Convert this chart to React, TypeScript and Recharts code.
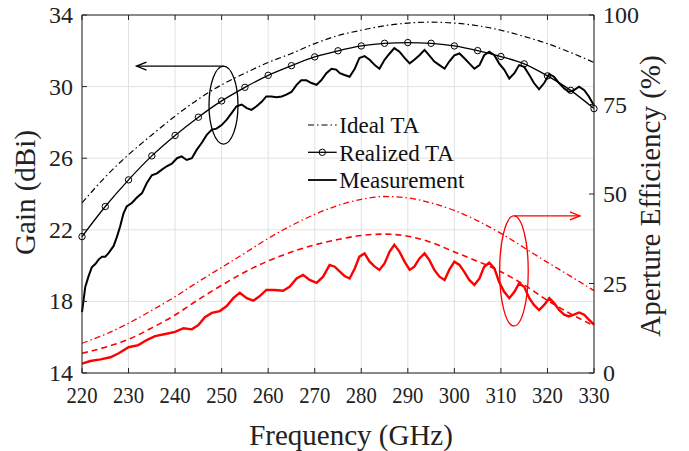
import React from 'react';
import {
  CartesianGrid,
  Label,
  Legend,
  Line,
  LineChart,
  ReferenceDot,
  XAxis,
  YAxis,
} from 'recharts';

const FONT = '"Liberation Serif", "Times New Roman", serif';
const AXIS = '#222';
const RED = '#ff0000';

const FREQ_TICKS = [220, 230, 240, 250, 260, 270, 280, 290, 300, 310, 320, 330];
const GAIN_TICKS = [14, 18, 22, 26, 30, 34];
const EFF_TICKS = [0, 25, 50, 75, 100];

// simulated curves, sampled every 5 GHz (markers of "Realized TA" sit on these)
const SIM_FREQ = [
  220, 225, 230, 235, 240, 245, 250, 255, 260, 265, 270, 275,
  280, 285, 290, 295, 300, 305, 310, 315, 320, 325, 330,
];
const IDEAL_GAIN = [
  23.5, 24.95, 26.2, 27.3, 28.35, 29.3, 30.1, 30.75, 31.35, 31.85, 32.4, 32.85,
  33.15, 33.4, 33.55, 33.6, 33.55, 33.4, 33.15, 32.8, 32.4, 31.9, 31.35,
];
const REALIZED_GAIN = [
  21.62, 23.3, 24.79, 26.13, 27.27, 28.29, 29.2, 29.96, 30.63, 31.17, 31.66, 32.0,
  32.27, 32.42, 32.46, 32.42, 32.27, 32.01, 31.68, 31.27, 30.6, 29.79, 28.77,
];
const IDEAL_EFF = [
  8.3, 10.8, 13.9, 17.5, 21.3, 25.5, 29.5, 33.5, 37.6, 41.2, 44.3, 46.8,
  48.5, 49.3, 48.9, 47.5, 45.4, 42.5, 39.0, 35.0, 30.9, 27.0, 23.0,
];
const REALIZED_EFF = [
  5.5, 7.2, 9.4, 12.6, 16.2, 20.5, 24.5, 28.2, 31.3, 33.8, 35.8, 37.3,
  38.4, 38.8, 38.2, 36.5, 33.8, 31.2, 28.3, 24.6, 20.3, 16.5, 13.2,
];

// measured gain (dBi)
const MEAS_GAIN_FREQ = [
  220.0, 220.7, 221.4, 222.1, 222.9, 223.6, 224.3, 225.0, 225.7, 226.8, 227.5, 228.2,
  228.9, 229.6, 230.7, 231.8, 232.9, 233.9, 235.0, 236.1, 237.1, 238.2, 239.3, 240.4,
  241.4, 242.5, 243.6, 244.6, 245.7, 246.8, 247.9, 248.9, 250.0, 251.1, 252.1, 253.2,
  254.3, 255.4, 256.4, 257.5, 258.6, 259.6, 260.7, 261.8, 262.9, 263.9, 265.0, 266.1,
  267.1, 268.2, 269.3, 270.4, 271.4, 272.5, 273.6, 274.6, 275.4, 276.4, 277.5, 278.6,
  279.6, 280.7, 281.8, 282.9, 283.9, 285.0, 286.1, 287.1, 288.2, 289.3, 290.4, 291.4,
  292.5, 293.6, 294.6, 295.7, 296.8, 297.9, 298.9, 300.0, 301.1, 302.1, 303.2, 304.3,
  305.4, 306.4, 307.5, 308.6, 309.6, 310.7, 311.8, 312.9, 313.9, 315.0, 316.1, 317.1,
  318.2, 319.3, 320.4, 321.4, 322.5, 323.6, 324.6, 325.7, 326.8, 327.9, 328.9, 330.0,
];
const MEAS_GAIN = [
  17.4, 18.8, 19.4, 19.9, 20.1, 20.35, 20.5, 20.5, 20.7, 21.1, 21.6, 22.2,
  22.9, 23.3, 23.5, 23.8, 24.05, 24.6, 25.05, 25.15, 25.35, 25.55, 25.7, 26.0,
  26.1, 25.9, 26.0, 26.45, 26.85, 27.3, 27.6, 27.65, 27.85, 28.15, 28.5, 28.9,
  29.0, 28.8, 28.7, 28.9, 29.15, 29.45, 29.45, 29.4, 29.45, 29.55, 29.7, 30.1,
  30.35, 30.35, 30.2, 30.1, 30.35, 30.75, 31.0, 30.95, 30.75, 30.65, 30.55, 31.0,
  31.6, 31.7, 31.5, 31.2, 31.0, 31.5, 31.85, 32.15, 31.95, 31.6, 31.3, 31.5,
  31.75, 32.05, 31.75, 31.4, 31.2, 31.0, 31.4, 31.75, 31.85, 31.6, 31.3, 31.0,
  31.2, 31.75, 31.95, 31.75, 31.3, 30.95, 30.45, 30.75, 31.2, 31.1, 30.65, 30.2,
  29.85, 30.2, 30.7, 30.55, 30.2, 29.9, 29.7, 29.8, 30.0, 29.8, 29.45, 28.95,
];

// measured aperture efficiency (%)
const MEAS_EFF_FREQ = [
  220.0, 221.8, 224.0, 226.1, 227.9, 230.0, 232.1, 233.9, 235.7, 237.9, 240.0, 241.8,
  243.6, 245.0, 246.4, 247.9, 249.6, 251.1, 252.5, 253.9, 255.4, 256.8, 258.2, 259.6,
  261.4, 263.2, 264.6, 266.1, 267.5, 268.9, 270.4, 271.8, 273.2, 274.3, 275.4, 276.4,
  277.5, 278.6, 279.6, 280.7, 281.8, 282.9, 283.9, 285.0, 286.1, 287.1, 288.2, 289.3,
  290.4, 291.4, 292.5, 293.6, 294.6, 295.7, 296.8, 297.9, 298.9, 300.0, 301.1, 302.1,
  303.2, 304.3, 305.4, 306.4, 307.5, 308.6, 309.6, 310.7, 311.8, 312.9, 313.9, 315.0,
  316.1, 317.1, 318.2, 319.3, 320.4, 321.4, 322.5, 323.6, 324.6, 325.7, 326.8, 327.9,
  328.9, 330.0,
];
const MEAS_EFF = [
  2.6, 3.35, 3.8, 4.4, 5.5, 7.2, 7.8, 9.2, 10.3, 10.9, 11.5, 12.5,
  12.2, 13.4, 15.6, 16.8, 17.3, 18.7, 20.9, 22.4, 20.9, 20.2, 21.5, 23.2,
  23.2, 23.0, 24.1, 26.4, 27.4, 26.0, 25.2, 26.9, 30.2, 29.7, 28.3, 27.1,
  26.4, 29.2, 32.5, 33.4, 31.1, 29.7, 28.8, 30.6, 33.9, 35.8, 33.9, 31.1,
  28.8, 29.7, 32.0, 33.4, 31.6, 28.8, 26.9, 26.0, 28.8, 31.1, 30.2, 28.3,
  26.0, 24.6, 26.4, 29.7, 30.8, 29.2, 25.5, 22.7, 20.9, 22.7, 25.0, 24.1,
  20.9, 19.0, 17.6, 19.0, 20.9, 19.6, 17.6, 16.3, 15.8, 16.3, 16.9, 16.3,
  14.9, 13.5,
];

const simData = SIM_FREQ.map((f, i) => ({
  f,
  ig: IDEAL_GAIN[i],
  rg: REALIZED_GAIN[i],
  ie: IDEAL_EFF[i],
  re: REALIZED_EFF[i],
}));
const measGainData = MEAS_GAIN_FREQ.map((f, i) => ({ f, g: MEAS_GAIN[i] }));
const measEffData = MEAS_EFF_FREQ.map((f, i) => ({ f, e: MEAS_EFF[i] }));

const LeftTick = (p: any) => (
  <text x={p.x} y={p.y} dy={8} textAnchor="end" fontFamily={FONT} fontSize={24} fill={AXIS}>
    {p.payload.value}
  </text>
);

const RightTick = (p: any) => (
  <text x={p.x} y={p.y} dy={8} textAnchor="start" fontFamily={FONT} fontSize={24} fill={AXIS}>
    {p.payload.value}
  </text>
);

const BottomTick = (p: any) => (
  <text
    x={p.x}
    y={p.y}
    dy={35}
    textAnchor="middle"
    fontFamily={FONT}
    fontSize={23.5}
    textLength={31}
    lengthAdjust="spacingAndGlyphs"
    fill={AXIS}
  >
    {p.payload.value}
  </text>
);

const NoTick = () => <g />;

const titleStyle = { fontFamily: FONT, fontSize: 29, fill: AXIS };

const GainTitle = ({ viewBox }: any) => {
  const cx = viewBox.x + 35;
  const cy = viewBox.y + viewBox.height / 2 - 1.5;
  return (
    <text x={cx} y={cy} textAnchor="middle" transform={`rotate(-90 ${cx} ${cy})`} {...titleStyle}>
      Gain (dBi)
    </text>
  );
};

const EffTitle = ({ viewBox }: any) => {
  const cx = viewBox.x + 66;
  const cy = viewBox.y + viewBox.height / 2 + 2;
  return (
    <text x={cx} y={cy} textAnchor="middle" transform={`rotate(-90 ${cx} ${cy})`} {...titleStyle}>
      Aperture Efficiency (%)
    </text>
  );
};

const FreqTitle = ({ viewBox }: any) => (
  <text x={viewBox.x + viewBox.width / 2 + 13} y={viewBox.y + 72} textAnchor="middle" {...titleStyle}>
    Frequency (GHz)
  </text>
);

// ellipse round the gain curves with an arrow pointing to the left axis
const GainCallout = ({ cx, cy }: any) => {
  const top = cy - 39;
  const tip = cx - 87;
  return (
    <g>
      <ellipse cx={cx} cy={cy} rx={14.5} ry={39} fill="none" stroke="#000" strokeWidth={1.3} />
      <line x1={cx} y1={top} x2={tip} y2={top} stroke="#000" strokeWidth={1.3} />
      <path d={`M${tip + 10},${top - 4} L${tip},${top} L${tip + 10},${top + 4}`} fill="none" stroke="#000" strokeWidth={1.3} />
    </g>
  );
};

// ellipse round the efficiency curves with an arrow pointing to the right axis
const EffCallout = ({ cx, cy }: any) => {
  const top = cy - 55;
  const tip = cx + 66;
  return (
    <g>
      <ellipse cx={cx} cy={cy} rx={14.3} ry={55} fill="none" stroke={RED} strokeWidth={1.3} />
      <line x1={cx} y1={top} x2={tip} y2={top} stroke={RED} strokeWidth={1.3} />
      <path d={`M${tip - 10},${top - 4} L${tip},${top} L${tip - 10},${top + 4}`} fill="none" stroke={RED} strokeWidth={1.3} />
    </g>
  );
};

const LegendBox = () => (
  <svg width={180} height={90} style={{ display: 'block', overflow: 'visible' }}>
    <line x1={8} y1={15} x2={36.7} y2={15} stroke="#000" strokeWidth={1.2} strokeDasharray="6 3 1.5 3" />
    <line x1={8} y1={42.3} x2={36.7} y2={42.3} stroke="#000" strokeWidth={1.3} />
    <circle cx={22.3} cy={42.3} r={3.2} fill="none" stroke="#000" strokeWidth={1} />
    <line x1={8} y1={70} x2={36.7} y2={70} stroke="#000" strokeWidth={1.8} />
    <g fontFamily={FONT} fontSize={23} fill="#111">
      <text x={39.3} y={23.3}>Ideal TA</text>
      <text x={39.3} y={51}>Realized TA</text>
      <text x={39.3} y={78.3}>Measurement</text>
    </g>
  </svg>
);

export default function App() {
  return (
    <div style={{ position: 'absolute', left: 0, top: 0, background: '#fff' }}>
      <LineChart width={689} height={451} data={simData} margin={{ top: 0, right: 0, bottom: 0, left: 0 }}>
        <CartesianGrid
          xAxisId="bottom"
          yAxisId="gain"
          stroke="#e2e2e2"
          strokeWidth={1}
          verticalValues={FREQ_TICKS}
          horizontalValues={GAIN_TICKS}
        />
        <XAxis
          xAxisId="bottom"
          dataKey="f"
          type="number"
          domain={[220, 330]}
          ticks={FREQ_TICKS}
          interval={0}
          height={78}
          tickSize={-5}
          tickMargin={0}
          axisLine={{ stroke: AXIS, strokeWidth: 1 }}
          tickLine={{ stroke: AXIS }}
          tick={<BottomTick />}
        >
          <Label content={<FreqTitle />} />
        </XAxis>
        <XAxis
          xAxisId="top"
          orientation="top"
          dataKey="f"
          type="number"
          domain={[220, 330]}
          ticks={FREQ_TICKS}
          interval={0}
          height={15}
          tickSize={-5}
          axisLine={{ stroke: AXIS, strokeWidth: 1 }}
          tickLine={{ stroke: AXIS }}
          tick={<NoTick />}
        />
        <YAxis
          yAxisId="gain"
          type="number"
          domain={[14, 34]}
          ticks={GAIN_TICKS}
          interval={0}
          width={82}
          tickSize={-5}
          tickMargin={14}
          axisLine={{ stroke: AXIS, strokeWidth: 1 }}
          tickLine={{ stroke: AXIS }}
          tick={<LeftTick />}
        >
          <Label content={<GainTitle />} />
        </YAxis>
        <YAxis
          yAxisId="eff"
          orientation="right"
          type="number"
          domain={[0, 100]}
          ticks={EFF_TICKS}
          interval={0}
          width={95}
          tickSize={-5}
          tickMargin={14}
          axisLine={{ stroke: AXIS, strokeWidth: 1 }}
          tickLine={{ stroke: AXIS }}
          tick={<RightTick />}
        >
          <Label content={<EffTitle />} />
        </YAxis>

        <Line
          xAxisId="bottom"
          yAxisId="gain"
          dataKey="ig"
          type="monotone"
          stroke="#000"
          strokeWidth={1.2}
          strokeDasharray="6 3 1.5 3"
          dot={false}
          isAnimationActive={false}
        />
        <Line
          xAxisId="bottom"
          yAxisId="gain"
          dataKey="rg"
          type="monotone"
          stroke="#000"
          strokeWidth={1.3}
          dot={{ r: 3.2, stroke: '#000', strokeWidth: 1, fill: 'none' }}
          isAnimationActive={false}
        />
        <Line
          xAxisId="bottom"
          yAxisId="gain"
          data={measGainData}
          dataKey="g"
          type="linear"
          stroke="#000"
          strokeWidth={2}
          dot={false}
          isAnimationActive={false}
        />
        <Line
          xAxisId="bottom"
          yAxisId="eff"
          dataKey="ie"
          type="monotone"
          stroke={RED}
          strokeWidth={1.3}
          strokeDasharray="6 3 1.5 3"
          dot={false}
          isAnimationActive={false}
        />
        <Line
          xAxisId="bottom"
          yAxisId="eff"
          dataKey="re"
          type="monotone"
          stroke={RED}
          strokeWidth={1.6}
          strokeDasharray="6 4"
          dot={false}
          isAnimationActive={false}
        />
        <Line
          xAxisId="bottom"
          yAxisId="eff"
          data={measEffData}
          dataKey="e"
          type="linear"
          stroke={RED}
          strokeWidth={2.4}
          dot={false}
          isAnimationActive={false}
        />

        <ReferenceDot xAxisId="bottom" yAxisId="gain" x={250.4} y={28.97} shape={<GainCallout />} />
        <ReferenceDot xAxisId="bottom" yAxisId="eff" x={312.8} y={28.5} shape={<EffCallout />} />

        <Legend
          layout="vertical"
          align="center"
          verticalAlign="middle"
          content={<LegendBox />}
          wrapperStyle={{ left: 300, top: 110, width: 180, height: 90 }}
        />
      </LineChart>
    </div>
  );
}
